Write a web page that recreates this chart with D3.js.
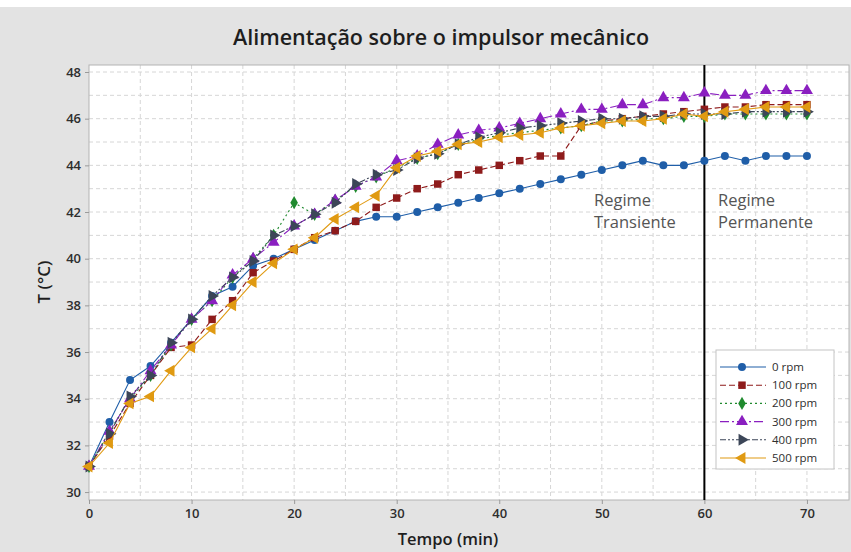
<!DOCTYPE html>
<html>
<head>
<meta charset="utf-8">
<script src="https://cdn.jsdelivr.net/npm/d3@7/dist/d3.min.js"></script>
<style>
  html, body { margin: 0; padding: 0; background: #fff; }
  svg { display: block; font-family: "Open Sans", "Noto Sans", sans-serif; }
</style>
</head>
<body>
<svg id="chart" width="851" height="552"></svg>
<script>
// time in minutes
const tempo = [0, 2, 4, 6, 8, 10, 12, 14, 16, 18, 20, 22, 24, 26, 28, 30, 32, 34,
               36, 38, 40, 42, 44, 46, 48, 50, 52, 54, 56, 58, 60, 62, 64, 66, 68, 70];

// temperatures (°C), one array per rotation
const rpm0 = [31.1, 33.0, 34.8, 35.4, 36.4, 37.4, 38.4, 38.8, 39.7, 40.0, 40.4, 40.8, 41.2, 41.6, 41.8, 41.8, 42.0, 42.2,
              42.4, 42.6, 42.8, 43.0, 43.2, 43.4, 43.6, 43.8, 44.0, 44.2, 44.0, 44.0, 44.2, 44.4, 44.2, 44.4, 44.4, 44.4];
const rpm100 = [31.1, 32.4, 33.8, 35.0, 36.2, 36.3, 37.4, 38.2, 39.4, 39.9, 40.4, 40.9, 41.2, 41.6, 42.2, 42.6, 43.0, 43.2,
                43.6, 43.8, 44.0, 44.2, 44.4, 44.4, 45.7, 45.9, 46.0, 46.1, 46.2, 46.3, 46.4, 46.5, 46.5, 46.6, 46.6, 46.6];
const rpm200 = [31.1, 32.6, 34.0, 35.0, 36.3, 37.4, 38.2, 39.2, 40.0, 41.0, 42.4, 41.9, 42.5, 43.1, 43.5, 43.9, 44.3, 44.5,
                44.9, 45.1, 45.3, 45.4, 45.5, 45.6, 45.7, 45.9, 45.9, 46.0, 46.0, 46.1, 46.1, 46.2, 46.2, 46.2, 46.2, 46.2];
const rpm300 = [31.1, 32.6, 34.0, 35.2, 36.3, 37.4, 38.2, 39.3, 40.0, 40.7, 41.4, 41.9, 42.5, 43.1, 43.5, 44.2, 44.4, 44.9,
                45.3, 45.5, 45.6, 45.8, 46.0, 46.2, 46.4, 46.4, 46.6, 46.6, 46.9, 46.9, 47.1, 47.0, 47.0, 47.2, 47.2, 47.2];
const rpm400 = [31.1, 32.5, 34.1, 35.0, 36.4, 37.4, 38.4, 39.2, 39.9, 41.0, 41.4, 41.9, 42.4, 43.2, 43.6, 43.8, 44.3, 44.5,
                44.9, 45.2, 45.4, 45.6, 45.7, 45.8, 45.9, 46.0, 46.0, 46.1, 46.1, 46.2, 46.2, 46.2, 46.3, 46.3, 46.3, 46.3];
const rpm500 = [31.1, 32.1, 33.8, 34.1, 35.2, 36.2, 37.0, 38.0, 39.0, 39.8, 40.4, 40.9, 41.7, 42.2, 42.7, 43.9, 44.4, 44.6,
                44.9, 45.0, 45.2, 45.3, 45.4, 45.6, 45.7, 45.8, 45.9, 45.9, 46.0, 46.2, 46.1, 46.3, 46.4, 46.5, 46.5, 46.5];

const seriesNames = ["0 rpm", "100 rpm", "200 rpm", "300 rpm", "400 rpm", "500 rpm"];
const seriesValues = [rpm0, rpm100, rpm200, rpm300, rpm400, rpm500];

const xTicks = [0, 10, 20, 30, 40, 50, 60, 70];
const yTicks = [30, 32, 34, 36, 38, 40, 42, 44, 46, 48];
const regimeLimit = 60;

const colors = ["#1f5ea8", "#8e1b1b", "#1f8a2e", "#8a1fc0", "#3c4658", "#e09a12"];
const dashes = [null, "6,3", "2,3", "9,3,2,3", "6,2,2,2,2,2", null];
const symbols = [
    { type: d3.symbolCircle, size: 50, rot: 0 },
    { type: d3.symbolSquare, size: 56, rot: 0 },
    { type: d3.symbolDiamond, size: 50, rot: 0 },
    { type: d3.symbolTriangle, size: 62, rot: 0 },
    { type: d3.symbolTriangle, size: 62, rot: 90 },
    { type: d3.symbolTriangle, size: 62, rot: -90 }
];

const svg = d3.select("#chart");
const W = 851, H = 552;
const plot = { left: 89, right: 849, top: 65, bottom: 500 };

// background
svg.append("rect").attr("width", W).attr("height", H).attr("fill", "#e3e3e3");
svg.append("rect").attr("width", W).attr("height", 7).attr("fill", "#ffffff");
svg.append("rect")
    .attr("x", plot.left).attr("y", plot.top)
    .attr("width", plot.right - plot.left).attr("height", plot.bottom - plot.top)
    .attr("fill", "#ffffff");

const x = d3.scaleLinear().domain([0, 74.1]).range([plot.left, plot.right]);
const y = d3.scaleLinear().domain([29.66, 48.3]).range([plot.bottom, plot.top]);

// grid
const grid = svg.append("g").attr("stroke", "#d6d6d6").attr("stroke-dasharray", "4,3").attr("stroke-width", 1);
grid.selectAll("line.gx").data(d3.range(5, 74, 5)).join("line")
    .attr("x1", d => x(d)).attr("x2", d => x(d))
    .attr("y1", plot.top).attr("y2", plot.bottom);
grid.selectAll("line.gy").data(d3.range(30, 49, 1)).join("line")
    .attr("x1", plot.left).attr("x2", plot.right)
    .attr("y1", d => y(d)).attr("y2", d => y(d));

// frame
svg.append("rect")
    .attr("x", plot.left).attr("y", plot.top)
    .attr("width", plot.right - plot.left).attr("height", plot.bottom - plot.top)
    .attr("fill", "none").attr("stroke", "#b4b4b4");

// axes
const xAxis = d3.axisBottom(x).tickValues(xTicks).tickSize(4).tickPadding(5);
const yAxis = d3.axisLeft(y).tickValues(yTicks).tickSize(4).tickPadding(4);

const gx = svg.append("g").attr("transform", "translate(0," + plot.bottom + ")").call(xAxis);
const gy = svg.append("g").attr("transform", "translate(" + plot.left + ",0)").call(yAxis);
[gx, gy].forEach(g => {
    g.select(".domain").remove();
    g.selectAll(".tick line").attr("stroke", "#9a9a9a");
    g.selectAll(".tick text")
        .attr("fill", "#2e2e2e")
        .style("font-size", "13px")
        .style("font-weight", "600")
        .style("font-family", "'Open Sans', sans-serif");
});

// regime separator
svg.append("line")
    .attr("x1", x(regimeLimit)).attr("x2", x(regimeLimit))
    .attr("y1", plot.top).attr("y2", plot.bottom)
    .attr("stroke", "#000").attr("stroke-width", 2);

const noteStyle = g => g.attr("fill", "#555").style("font-size", "16.5px");
const t1 = svg.append("text").call(noteStyle).attr("x", 594).attr("y", 206);
t1.append("tspan").attr("x", 594).text("Regime");
t1.append("tspan").attr("x", 594).attr("dy", 22).text("Transiente");
const t2 = svg.append("text").call(noteStyle).attr("x", 718).attr("y", 206);
t2.append("tspan").attr("x", 718).text("Regime");
t2.append("tspan").attr("x", 718).attr("dy", 22).text("Permanente");

// series
const line = d3.line().x(d => x(d[0])).y(d => y(d[1]));
seriesValues.forEach((vals, i) => {
    const pts = tempo.map((t, k) => [t, vals[k]]);
    const g = svg.append("g");
    g.append("path")
        .datum(pts)
        .attr("d", line)
        .attr("fill", "none")
        .attr("stroke", colors[i])
        .attr("stroke-width", 1.1)
        .attr("stroke-dasharray", dashes[i]);
    const sym = d3.symbol().type(symbols[i].type).size(symbols[i].size);
    g.selectAll("path.m").data(pts).join("path")
        .attr("class", "m")
        .attr("d", sym)
        .attr("transform", d => "translate(" + x(d[0]) + "," + y(d[1]) + ") rotate(" + symbols[i].rot + ")")
        .attr("fill", colors[i]);
});

// legend
const lg = svg.append("g").attr("transform", "translate(716,350)");
lg.append("rect").attr("width", 118).attr("height", 119)
    .attr("fill", "#ffffff").attr("stroke", "#c4c4c4");
seriesNames.forEach((name, i) => {
    const yy = 17 + i * 18.2;
    const row = lg.append("g").attr("transform", "translate(0," + yy + ")");
    row.append("line").attr("x1", 4).attr("x2", 50).attr("y1", 0).attr("y2", 0)
        .attr("stroke", colors[i]).attr("stroke-width", 1.1)
        .attr("stroke-dasharray", dashes[i]);
    row.append("path")
        .attr("d", d3.symbol().type(symbols[i].type).size(symbols[i].size)())
        .attr("transform", "translate(26,0) rotate(" + symbols[i].rot + ")")
        .attr("fill", colors[i]);
    row.append("text").attr("x", 56).attr("y", 4)
        .attr("fill", "#2e2e2e").style("font-size", "11.5px")
        .text(name);
});

// titles
svg.append("text")
    .attr("x", 441).attr("y", 45)
    .attr("text-anchor", "middle")
    .attr("fill", "#1e1e1e")
    .style("font-size", "21.5px")
    .style("font-weight", "600")
    .text("Alimentação sobre o impulsor mecânico");

svg.append("text")
    .attr("x", 448).attr("y", 545)
    .attr("text-anchor", "middle")
    .attr("fill", "#1e1e1e")
    .style("font-size", "16.5px")
    .style("font-weight", "600")
    .text("Tempo (min)");

svg.append("text")
    .attr("transform", "translate(50,282) rotate(-90)")
    .attr("text-anchor", "middle")
    .attr("fill", "#1e1e1e")
    .style("font-size", "17px")
    .style("font-weight", "600")
    .text("T (°C)");
</script>
</body>
</html>
